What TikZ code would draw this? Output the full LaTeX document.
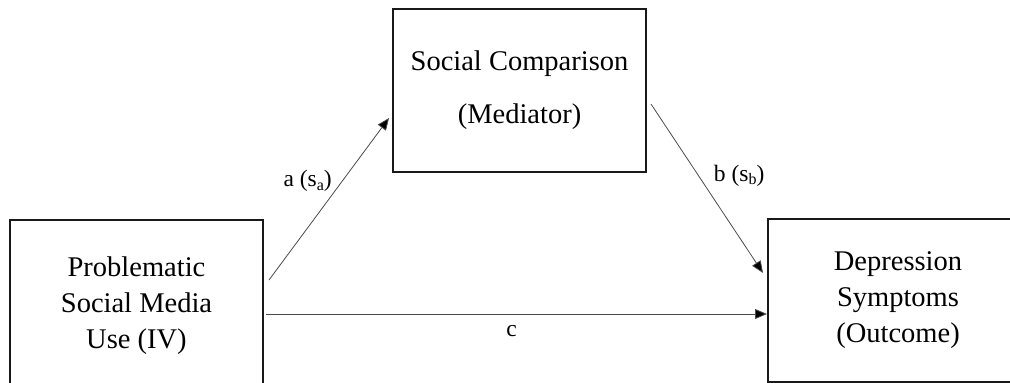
\documentclass[tikz,border=0pt]{standalone}
\usepackage{fontspec}
\setmainfont{Liberation Serif}
\usetikzlibrary{arrows.meta}
\newcommand{\subtx}[1]{\raisebox{-0.3ex}{\fontsize{16}{16}\selectfont #1}}
\begin{document}
\begin{tikzpicture}[x=1pt,y=-1pt,
  box/.style={draw=black!90, line width=2pt, rectangle, align=center, inner sep=0pt},
  conn/.style={draw=black!70, line width=0.8pt, -{Triangle[length=12pt,width=10pt,fill=black]}},
  lbl/.style={font=\fontsize{23.5}{28}\selectfont, inner sep=0pt}]
\clip (0,0) rectangle (1010,383);
\fill[white] (0,0) rectangle (1010,383);
\node[box, minimum width=253pt, minimum height=172pt,
      font=\fontsize{28.5}{36}\selectfont] (L) at (136.5,306)
  {Problematic\\Social Media\\Use (IV)};
\node[box, minimum width=253pt, minimum height=163pt,
      font=\fontsize{28.5}{53}\selectfont] (T) at (519.5,90.5)
  {Social Comparison\\(Mediator)};
\node[box, minimum width=260pt, minimum height=163pt,
      font=\fontsize{28.5}{36}\selectfont] (R) at (898,300.5)
  {Depression\\Symptoms\\(Outcome)};
\draw[conn] ([xshift=5pt,yshift=26pt]L.east) -- ([xshift=-3pt,yshift=-27.5pt]T.west)
  node[lbl, pos=0.48, xshift=-19pt, yshift=21pt] (la) {a (s\subtx{a})};
\draw[conn] ([xshift=4pt,yshift=-13.5pt]T.east) -- ([xshift=-4pt,yshift=27.5pt]R.west)
  node[lbl, pos=0.43, xshift=40pt, yshift=1pt] (lb) {b (s\subtx{b})};
\draw[conn] ([xshift=2pt,yshift=-8pt]L.east) -- ([yshift=-13.5pt]R.west)
  node[lbl, pos=0.49, yshift=-17pt] (lc) {c};
\end{tikzpicture}
\end{document}
